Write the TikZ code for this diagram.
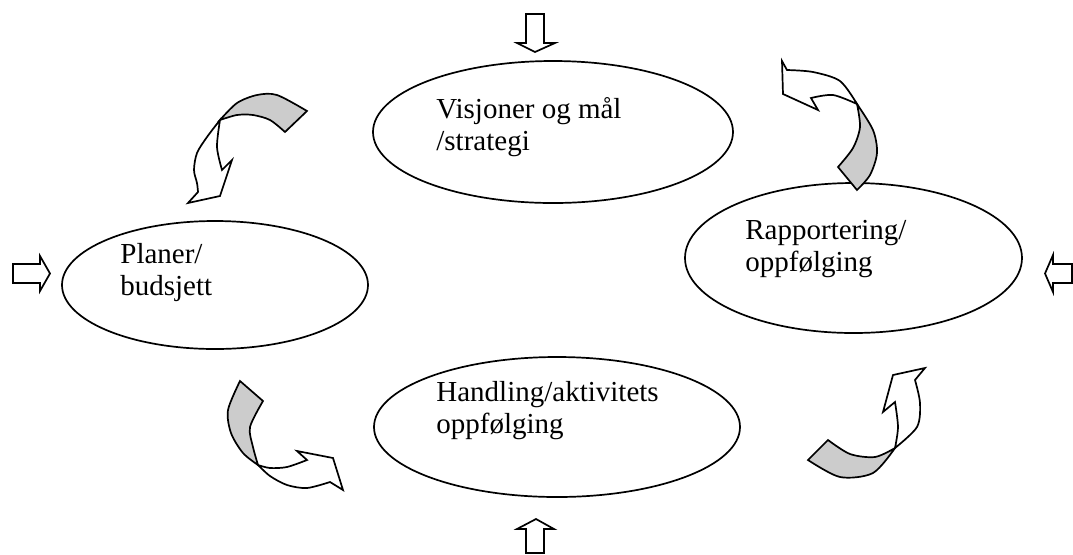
\documentclass[tikz,border=0pt]{standalone}
\usepackage{fontspec}
\setmainfont{Liberation Serif}
\usetikzlibrary{shapes.geometric,positioning}
\definecolor{bandgray}{RGB}{204,204,204}
\begin{document}
\begin{tikzpicture}[
    x=0.5pt,y=-0.5pt,
    bubble/.style={ellipse,draw,line width=0.85pt,inner sep=0pt,outer sep=0pt},
    lbl/.style={anchor=base west,align=left,inner sep=0pt,font=\fontsize{14.5}{16}\selectfont},
    blockarrow/.style={draw,line width=0.85pt,fill=white,line join=miter},
    backband/.style={draw,line width=0.85pt,fill=bandgray,line join=miter},
    frontband/.style={draw,line width=0.85pt,fill=white,line join=miter}]
    \useasboundingbox (0,0) rectangle (1073,554);
    % the four ellipses
    \node[bubble,minimum width=180pt,minimum height=71pt] (vis) at (553,132) {};
    \node[bubble,minimum width=153pt,minimum height=64pt] (plan) at (215,285) {};
    \node[bubble,minimum width=168.5pt,minimum height=75pt] (rapp) at (853.5,258) {};
    \node[bubble,minimum width=183pt,minimum height=70pt] (hand) at (557,427) {};
    % labels (base = baseline of the last line)
    \node[lbl] (vis-txt) at (436,150) {Visjoner og mål\\/strategi};
    \node[lbl] (plan-txt) at (120,295) {Planer/\\budsjett};
    \node[lbl] (rapp-txt) at (745,271) {Rapportering/\\oppfølging};
    \node[lbl] (hand-txt) at (436,433) {Handling/aktivitets\\oppfølging};
    % straight block arrows
    \draw[blockarrow] (526,14) -- (544,14) -- (544,43) -- (555,43) -- (535,52) -- (517,43) -- (526,43) -- cycle;
    \draw[blockarrow] (526,553) -- (544,553) -- (544,529) -- (554,529) -- (536,519) -- (517,529) -- (526,529) -- cycle;
    \draw[blockarrow] (13,264) -- (40,264) -- (40,256) -- (50,273.5) -- (40,291) -- (40,283) -- (13,283) -- cycle;
    \draw[blockarrow] (1072,264) -- (1053,264) -- (1053,255) -- (1045,273.5) -- (1053,292) -- (1053,283) -- (1072,283) -- cycle;
    % curved arrow, top left
    \filldraw[backband] (220,120) -- plot[smooth] coordinates {(220,120) (237,103) (257,95) (277,95) (307,111)}
      -- (285,132) -- plot[smooth] coordinates {(285,132) (270,120) (253,115) (237,115) (220,120)} -- cycle;
    \filldraw[frontband] (220,120) -- plot[smooth] coordinates {(220,120) (207,137) (197,153) (194,170) (197,183) (198,192)}
      -- (188,203) -- (220,196) -- (232,160) -- (222,170)
      -- plot[smooth] coordinates {(222,170) (217,147) (220,120)} -- cycle;
    % curved arrow, top right
    \filldraw[backband] (857,104) -- plot[smooth] coordinates {(857,104) (873,130) (877,153) (870,175) (857,190)}
      -- (838,167) -- plot[smooth] coordinates {(838,167) (853,148) (860,127) (857,104)} -- cycle;
    \filldraw[frontband] (857,104) -- plot[smooth] coordinates {(857,104) (840,81) (813,72) (787,70)}
      -- (782,61) -- (783,94) -- (818,110) -- (811,98)
      -- plot[smooth] coordinates {(811,98) (833,95) (857,104)} -- cycle;
    % curved arrow, bottom left
    \filldraw[backband] (240,381) -- (263,401) -- plot[smooth] coordinates {(263,401) (250,427) (253,447) (258,465)}
      -- plot[smooth] coordinates {(258,465) (243,453) (231,433) (228,410) (240,381)} -- cycle;
    \filldraw[frontband] (258,465) -- plot[smooth] coordinates {(258,465) (270,468) (287,467) (307,460)}
      -- (297,451) -- (333,458) -- (343,490) -- (330,482)
      -- plot[smooth] coordinates {(330,482) (307,488) (287,485) (270,476) (258,465)} -- cycle;
    % curved arrow, bottom right
    \filldraw[backband] (808,460) -- (828,440) -- plot[smooth] coordinates {(828,440) (850,454) (875,457) (895,448)}
      -- plot[smooth] coordinates {(895,448) (873,473) (840,477) (808,460)} -- cycle;
    \filldraw[frontband] (895,448) -- plot[smooth] coordinates {(895,448) (898,427) (895,402)}
      -- (883,412) -- (893,375) -- (925,368) -- (915,380)
      -- plot[smooth] coordinates {(915,380) (920,403) (917,427) (895,448)} -- cycle;
\end{tikzpicture}
\end{document}
